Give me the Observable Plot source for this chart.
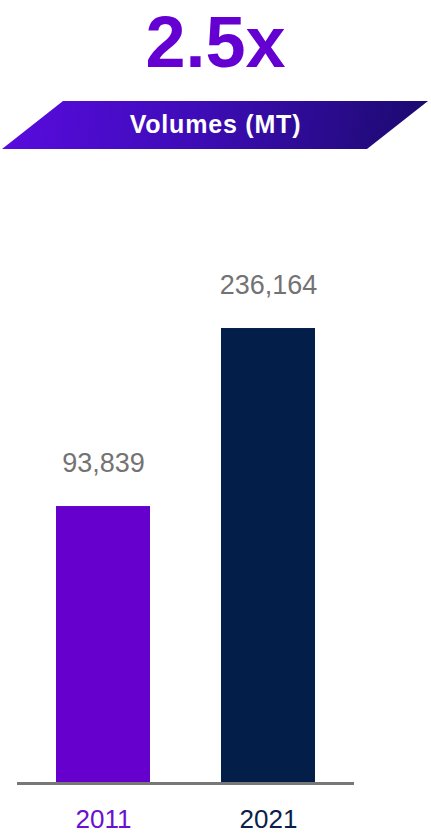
<!DOCTYPE html>
<html>
<head>
<meta charset="utf-8">
<script src="https://cdn.jsdelivr.net/npm/d3@7"></script>
<script src="https://cdn.jsdelivr.net/npm/@observablehq/plot@0.6"></script>
<style>
  html, body { margin: 0; padding: 0; background: #fff; width: 431px; height: 834px; overflow: hidden; }
  #header { position: relative; width: 431px; height: 160px; }
  #title { position: absolute; left: 0; width: 431px; top: 4px; text-align: center;
    font-family: "Liberation Sans", Arial, sans-serif; font-weight: 700; font-size: 72px;
    color: #6400d2; letter-spacing: 0px; line-height: 76px; }
  #banner { position: absolute; left: 0; top: 101px; width: 431px; height: 48px;
    background: linear-gradient(100deg, #5a0be0 0%, #3e0cb8 45%, #1a0a6c 100%);
    clip-path: polygon(63px 0, 428px 0, 367px 48px, 2px 48px); }
  #bannerText { position: absolute; left: 0; top: 100px; width: 431px; height: 48px; line-height: 48px;
    text-align: center; color: #fff; font-family: "Liberation Sans", Arial, sans-serif;
    font-weight: 700; font-size: 25px; letter-spacing: 0.8px; }
  #chart { position: absolute; left: 0; top: 160px; }
</style>
</head>
<body>
<div id="header">
  <div id="title"></div>
  <div id="banner"></div>
  <div id="bannerText"></div>
</div>
<div id="chart"></div>
<script>
const headline = "2.5x";
const bannerLabel = "Volumes (MT)";
const years = ["2011", "2021"];
const volumes = [93839, 236164];
const barColors = ["#6600cc", "#041e4a"];
const yearColors = ["#6a10d0", "#0a1f4a"];
const yBase = -127600;
const yTop = 370500;

document.getElementById("title").textContent = headline;
document.getElementById("bannerText").textContent = bannerLabel;

const data = years.map((year, i) => ({
  year, value: volumes[i], color: barColors[i], labelColor: yearColors[i],
  label: d3.format(",")(volumes[i])
}));

const chart = Plot.plot({
  width: 431,
  height: 674,
  marginTop: 0,
  marginBottom: 51,
  marginLeft: 17,
  marginRight: 77,
  x: { domain: years, paddingInner: 0.43, paddingOuter: 0.236, axis: null },
  y: { domain: [yBase, yTop], axis: null },
  style: { fontFamily: "Liberation Sans, Arial, sans-serif", background: "transparent", overflow: "visible" },
  marks: [
    Plot.barY(data, { x: "year", y1: () => yBase, y2: "value", fill: "color" }),
    Plot.ruleY([yBase], { stroke: "#777777", strokeWidth: 3 }),
    Plot.text(data, { x: "year", y: "value", text: "label", dy: -43, fill: "#737373",
      fontSize: 27, lineAnchor: "middle" }),
    Plot.text(data, { x: "year", y: () => yBase, text: "year", dy: 36, fill: "labelColor",
      fontSize: 26, lineAnchor: "middle" })
  ]
});
document.getElementById("chart").appendChild(chart);
</script>
</body>
</html>
